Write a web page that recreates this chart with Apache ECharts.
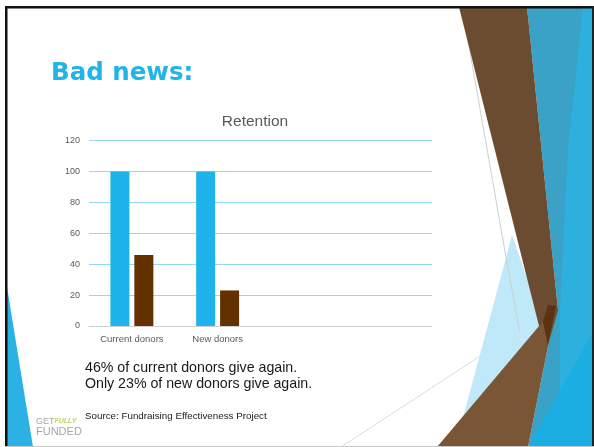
<!DOCTYPE html>
<html><head><meta charset="utf-8">
<script src="https://cdn.jsdelivr.net/npm/echarts@6/dist/echarts.min.js"></script>
<style>html,body{margin:0;padding:0;background:#fff}#c{width:594px;height:447px}</style>
</head><body><div id="c"></div>
<script>
const categories = ['Current donors', 'New donors', '', ''];
const seriesA = [100, 100, null, null];
const seriesB = [46, 23, null, null];
const yTicks = { min: 0, max: 120, interval: 20 };
const chartTitle = 'Retention';
const heading = 'Bad news:';
const bodyLines = ['46% of current donors give again.', 'Only 23% of new donors give again.'];
const sourceText = 'Source: Fundraising Effectiveness Project';

const chart = echarts.init(document.getElementById('c'), null, { renderer: 'canvas' });
const poly = (pts, fill, z) => ({ type: 'polygon', shape: { points: pts }, style: { fill: fill }, z: z, silent: true });
chart.setOption({
  animation: false,
  backgroundColor: '#fff',
  title: { text: chartTitle, left: 250, top: 109, textAlign: 'center',
    textStyle: { fontFamily: 'Liberation Sans', fontWeight: 'normal', fontSize: 15.5, color: '#595959' } },
  grid: { left: 89, right: 162, top: 140.5, bottom: 121, containLabel: false },
  xAxis: { type: 'category', data: categories,
    axisLine: { lineStyle: { color: '#d0d0d0', width: 1 } }, axisTick: { show: false },
    axisLabel: { color: '#595959', fontSize: 9.5, fontFamily: 'Liberation Sans', margin: 8, interval: 0 } },
  yAxis: { type: 'value', min: yTicks.min, max: yTicks.max, interval: yTicks.interval,
    axisLine: { show: false }, axisTick: { show: false },
    axisLabel: { color: '#595959', fontSize: 9, fontFamily: 'Liberation Sans', margin: 9 },
    splitLine: { lineStyle: { color: '#93d9f4', width: 1 } } },
  series: [
    { type: 'bar', data: seriesA, barWidth: 19, barGap: '26%', itemStyle: { color: '#1eb4eb' } },
    { type: 'bar', data: seriesB, barWidth: 19, itemStyle: { color: '#633100' } }
  ],
  graphic: [
    poly([[7, 287], [33, 447], [7, 447]], '#2bb1e4', 1),
    poly([[527, 7], [594, 7], [594, 447], [528, 447], [556, 306], [558, 310]], '#3aa2c6', 1),
    poly([[583, 7], [594, 7], [594, 447], [560, 447], [560, 310], [568, 150]], '#2eb0df', 2),
    poly([[528, 447], [594, 330], [594, 447]], '#1aaee2', 3),
    poly([[512, 235], [545, 330], [528, 447], [455, 447], [492, 310]], '#bfe8f8', 2),
    poly([[459, 7], [527, 7], [558, 310], [548, 345], [540, 330]], '#6b4c30', 4),
    poly([[437, 447], [556, 306], [528, 447]], '#7a5636', 4),
    poly([[548, 305], [556, 306], [548, 345], [543, 322]], '#5a3310', 5),
    { type: 'polyline', shape: { points: [[463, 12], [507, 263], [520, 333]] }, style: { stroke: '#cfcfcf', lineWidth: 1, fill: null }, z: 3, silent: true },
    { type: 'polyline', shape: { points: [[341, 447], [520, 330]] }, style: { stroke: '#dcdcdc', lineWidth: 1, fill: null }, z: 1, silent: true },
    { type: 'rect', shape: { x: 5, y: 6, width: 589, height: 2.5 }, style: { fill: '#111' }, z: 10 },
    { type: 'rect', shape: { x: 5, y: 6, width: 2.5, height: 441 }, style: { fill: '#111' }, z: 10 },
    { type: 'rect', shape: { x: 592, y: 6, width: 2, height: 441 }, style: { fill: '#222' }, z: 10 },
    { type: 'rect', shape: { x: 5, y: 446, width: 589, height: 1 }, style: { fill: '#c8c8c8' }, z: 10 },
    { type: 'text', left: 51, top: 61, style: { text: heading, fontFamily: 'DejaVu Sans', fontWeight: 'bold', fontSize: 24.5, fill: '#1fb5ea' }, z: 10 },
    { type: 'text', left: 85, top: 360, style: { text: bodyLines.join('\n'), fontFamily: 'Liberation Sans', fontSize: 14.2, lineHeight: 16, fill: '#1a1a1a' }, z: 10 },
    { type: 'text', left: 85, top: 411, style: { text: sourceText, fontFamily: 'Liberation Sans', fontSize: 9.8, fill: '#1a1a1a' }, z: 10 },
    { type: 'text', left: 36, top: 417, style: { text: '{g|GET}{f|FULLY}\n{h|FUNDED}', rich: {
        g: { fontFamily: 'Liberation Sans', fontSize: 9, fill: '#a6a6a6', lineHeight: 10 },
        h: { fontFamily: 'Liberation Sans', fontSize: 11, fill: '#a6a6a6', lineHeight: 10 },
        f: { fontFamily: 'Liberation Sans', fontSize: 7, fontStyle: 'italic', fontWeight: 'bold', fill: '#c5cf5a', lineHeight: 10 } } }, z: 10 }
  ]
});
</script></body></html>
